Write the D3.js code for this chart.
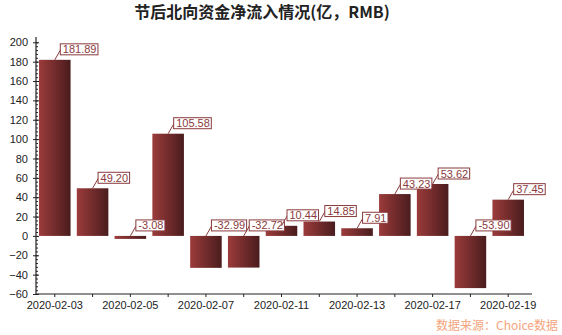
<!DOCTYPE html>
<html>
<head>
<meta charset="utf-8">
<script src="https://cdn.jsdelivr.net/npm/d3@7"></script>
<style>
  html, body { margin: 0; padding: 0; background: #fff; }
  svg { display: block; }
</style>
</head>
<body>
<svg id="chart" width="562" height="335"></svg>
<script>
// Northbound net inflow after the holiday, in 100 million RMB
const dates = ["2020-02-03", "2020-02-04", "2020-02-05", "2020-02-06", "2020-02-07",
               "2020-02-10", "2020-02-11", "2020-02-12", "2020-02-13", "2020-02-14",
               "2020-02-17", "2020-02-18", "2020-02-19"];
const netInflow = [181.89, 49.20, -3.08, 105.58, -32.99, -32.72, 10.44, 14.85, 7.91,
                   43.23, 53.62, -53.90, 37.45];
const labelledDates = ["2020-02-03", "2020-02-05", "2020-02-07", "2020-02-11",
                       "2020-02-13", "2020-02-17", "2020-02-19"];
const yTicks = [-60, -40, -20, 0, 20, 40, 60, 80, 100, 120, 140, 160, 180, 200];

const titleText = "节后北向资金净流入情况(亿，RMB)";
const sourceText = "数据来源：Choice数据";

const svg = d3.select("#chart");
const plotLeft = 36, plotRight = 527, plotTop = 42.3, plotBottom = 294;

const x = d3.scaleBand().domain(dates).range([plotLeft, plotRight]).paddingInner(0.165).paddingOuter(0.08);
const y = d3.scaleLinear().domain([-60, 200]).range([plotBottom, plotTop]);

// bar gradient: light red on the left fading to dark maroon on the right
const defs = svg.append("defs");
const grad = defs.append("linearGradient").attr("id", "barGrad")
  .attr("x1", "0%").attr("x2", "100%").attr("y1", "0%").attr("y2", "0%");
grad.append("stop").attr("offset", "0%").attr("stop-color", "#9c3b3b");
grad.append("stop").attr("offset", "100%").attr("stop-color", "#4a1c1d");

// title
svg.append("text")
  .attr("x", 262).attr("y", 18)
  .attr("text-anchor", "middle")
  .attr("font-family", "'Noto Sans CJK SC', sans-serif")
  .attr("font-weight", "bold")
  .attr("font-size", 16)
  .attr("fill", "#222")
  .text(titleText);

// bars
svg.append("g").selectAll("rect")
  .data(dates.map((d, i) => ({ d, v: netInflow[i] })))
  .join("rect")
  .attr("x", p => x(p.d))
  .attr("width", x.bandwidth())
  .attr("y", p => y(Math.max(0, p.v)))
  .attr("height", p => Math.abs(y(p.v) - y(0)))
  .attr("fill", "url(#barGrad)");

// y axis: major ticks with labels, minor ticks inside
const yAxis = d3.axisLeft(y).tickValues(yTicks).tickSize(3).tickSizeOuter(0).tickPadding(5);
const gy = svg.append("g").attr("transform", `translate(${plotLeft},0)`).call(yAxis);
gy.select(".domain").remove();
gy.selectAll("text").attr("font-family", "Arial, 'Liberation Sans', sans-serif")
  .attr("font-size", 11).attr("fill", "#222");
gy.selectAll("line").attr("stroke", "#222");

const minorVals = d3.range(-60, 201, 4);
const gyMinor = svg.append("g").attr("transform", `translate(${plotLeft},0)`)
  .call(d3.axisRight(y).tickValues(minorVals).tickSize(2).tickFormat(""));
gyMinor.select(".domain").remove();
gyMinor.selectAll("line").attr("stroke", "#222");
const gyMajorIn = svg.append("g").attr("transform", `translate(${plotLeft},0)`)
  .call(d3.axisRight(y).tickValues(yTicks).tickSize(3).tickFormat(""));
gyMajorIn.select(".domain").remove();
gyMajorIn.selectAll("line").attr("stroke", "#222");

// x axis
const xAxis = d3.axisBottom(x).tickSize(3).tickSizeOuter(0).tickPadding(4)
  .tickFormat(d => labelledDates.includes(d) ? d : "");
const gx = svg.append("g").attr("transform", `translate(0,${plotBottom})`).call(xAxis);
gx.select(".domain").remove();
gx.selectAll("text").attr("font-family", "Arial, 'Liberation Sans', sans-serif")
  .attr("font-size", 11).attr("fill", "#222");
gx.selectAll("line").attr("stroke", "#222");

// axis lines
svg.append("line").attr("x1", plotLeft).attr("x2", plotLeft).attr("y1", 37).attr("y2", plotBottom)
  .attr("stroke", "#222").attr("stroke-width", 1.2);
svg.append("line").attr("x1", plotLeft).attr("x2", 532).attr("y1", plotBottom).attr("y2", plotBottom)
  .attr("stroke", "#222").attr("stroke-width", 1.2);

// value labels with leader lines
const labelColor = "#8a3b3d";
const lab = svg.append("g").selectAll("g")
  .data(dates.map((d, i) => ({ d, v: netInflow[i] })))
  .join("g");
lab.each(function (p) {
  const g = d3.select(this);
  const cx = x(p.d) + x.bandwidth() / 2;
  const ay = y(Math.max(0, p.v));
  const bx = cx + 6, by = ay - 10.5;
  g.append("line").attr("x1", cx).attr("y1", ay).attr("x2", bx).attr("y2", by)
    .attr("stroke", labelColor).attr("stroke-width", 1);
  const t = g.append("text")
    .attr("x", bx + 2).attr("y", by + 4)
    .attr("font-family", "Arial, 'Liberation Sans', sans-serif")
    .attr("font-size", 11)
    .attr("fill", labelColor)
    .text(p.v.toFixed(2));
  const w = t.node().getComputedTextLength();
  g.insert("rect", "text")
    .attr("x", bx - 0.5).attr("y", by - 5.5)
    .attr("width", w + 4).attr("height", 11)
    .attr("fill", "#fff").attr("stroke", labelColor).attr("stroke-width", 1);
});

// source note
svg.append("text")
  .attr("x", 558).attr("y", 330)
  .attr("text-anchor", "end")
  .attr("font-family", "'Noto Sans CJK SC', sans-serif")
  .attr("font-size", 12)
  .attr("fill", "#f4a47c")
  .text(sourceText);
</script>
</body>
</html>
